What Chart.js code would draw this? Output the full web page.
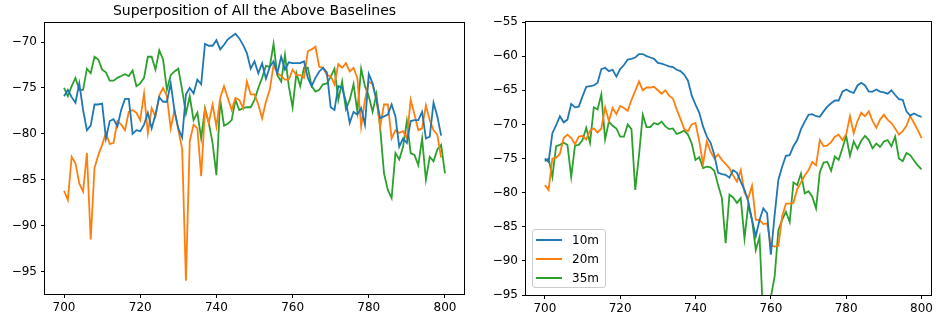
<!DOCTYPE html>
<html>
<head>
<meta charset="utf-8">
<script src="https://cdn.jsdelivr.net/npm/chart.js@4"></script>
<style>
  body { margin: 0; background: #fff; }
  #wrap { position: relative; width: 936px; height: 324px; overflow: hidden; }
  canvas { position: absolute; top: 0; }
  #leftChart { left: 0; }
  #rightChart { left: 476px; }
  .legend {
    position: absolute;
    border: 1px solid #ccc;
    border-radius: 3px;
    background: rgba(255, 255, 255, 0.8);
    padding: 0 6px 0 3px;
    font: 12px "DejaVu Sans", sans-serif;
    color: #000;
  }
  .legend div { display: flex; align-items: center; height: 19px; }
  .legend span.swatch { display: inline-block; width: 26px; height: 2px; margin-right: 10px; }
</style>
</head>
<body>
<div id="wrap">
  <canvas id="leftChart" width="470" height="324"></canvas>
  <canvas id="rightChart" width="460" height="324"></canvas>
</div>
<script>
// wavelength grid, 700..800 step 1
const xValues = [];
for (let w = 700; w <= 800; w++) xValues.push(w);

const seriesNames = ["10m", "20m", "35m"];
const seriesColors = ["#1f77b4", "#ff7f0e", "#2ca02c"];
const xTicks = [700, 720, 740, 760, 780, 800];
const leftYTicks = [-95, -90, -85, -80, -75, -70];
const rightYTicks = [-95, -90, -85, -80, -75, -70, -65, -60, -55];

// left plot (superposition), blue and orange stop at 799
const leftBlue = [
  -75.9, -75.2, -76.0, -76.6, -74.5, -77.4, -79.6, -79.1, -76.8, -76.8,
  -76.7, -80.5, -78.6, -78.4, -79.2, -77.4, -76.2, -76.2, -80.0, -79.6,
  -79.7, -79.0, -77.7, -79.4, -77.9, -76.0, -76.5, -76.5, -74.5, -77.5,
  -79.4, -80.4, -75.7, -75.0, -75.6, -74.1, -74.6, -70.2, -70.4, -70.4,
  -69.8, -70.8, -70.3, -69.7, -69.4, -69.1, -69.6, -70.3, -71.2, -72.9,
  -72.1, -73.4, -72.3, -74.0, -72.7, -72.1, -73.4, -71.6, -73.0, -72.2,
  -72.3, -72.3, -72.3, -72.1, -73.9, -74.8, -73.9, -73.2, -72.8, -73.3,
  -77.1, -77.4, -74.8, -75.0, -76.5, -78.8, -77.6, -77.9, -77.2, -79.0,
  -73.5, -74.5, -76.3, -78.3, -78.1, -77.9, -76.8, -78.1, -81.4, -80.5,
  -81.0, -78.6, -78.5, -78.5, -77.6, -80.5, -80.3, -76.6, -78.1, -80.2
];
const leftOrange = [
  -86.2, -87.2, -82.5, -83.2, -85.4, -86.3, -82.1, -91.5, -83.7, -82.3,
  -81.2, -79.9, -81.1, -81.0, -78.6, -79.0, -79.6, -77.6, -77.4, -77.7,
  -78.5, -75.6, -79.9, -77.2, -78.1, -75.8, -75.0, -75.9, -79.4, -77.4,
  -79.6, -81.6, -96.0, -80.8, -79.0, -79.4, -84.6, -77.4, -78.8, -76.8,
  -79.2, -76.1, -74.8, -76.1, -77.4, -76.1, -76.3, -77.2, -74.3, -75.7,
  -75.7, -76.8, -78.3, -76.5, -75.2, -72.5, -73.4, -73.7, -74.1, -74.1,
  -73.0, -73.6, -73.6, -73.9, -71.0, -70.8, -70.5, -72.7, -72.8, -73.6,
  -73.7, -74.6, -72.4, -72.8, -72.3, -73.2, -72.8, -73.9, -79.2, -76.3,
  -74.3, -74.6, -76.3, -79.2, -76.8, -76.8, -80.5, -79.6, -79.9, -79.7,
  -80.5, -76.3, -77.9, -79.6, -79.4, -76.9, -78.5, -79.6, -80.1, -82.6
];
const leftGreen = [
  -75.0, -75.9, -74.8, -73.9, -75.2, -75.2, -72.9, -73.4, -71.6, -71.9,
  -73.0, -73.3, -74.2, -74.2, -73.9, -73.7, -73.5, -73.7, -73.1, -74.8,
  -74.5, -73.9, -71.6, -71.6, -73.0, -70.9, -71.9, -75.2, -73.6, -73.2,
  -72.9, -75.2, -77.8, -75.9, -78.5, -77.7, -80.5, -77.2, -78.8, -81.0,
  -84.5, -76.3, -79.1, -78.9, -78.5, -76.3, -77.4, -77.2, -77.1, -77.1,
  -76.3, -75.0, -73.9, -72.6, -72.7, -70.2, -73.6, -74.3, -71.4, -74.8,
  -77.1, -73.4, -74.8, -72.8, -72.8, -74.8, -75.4, -75.2, -74.6, -74.5,
  -73.8, -72.9, -76.3, -74.3, -77.3, -76.3, -74.6, -77.6, -72.9, -74.8,
  -75.9, -77.6, -75.7, -79.4, -84.3, -86.1, -87.0, -82.1, -82.8, -81.4,
  -78.6, -82.1, -82.3, -83.4, -80.5, -85.0, -82.5, -83.0, -81.7, -81.2,
  -84.3
];

// right plot
const rightBlue = [
  -75.0, -75.5, -71.3, -70.1, -68.8, -69.7, -69.3, -67.0, -67.5, -67.4,
  -65.9, -64.5, -64.4, -64.3, -63.9, -61.9, -61.7, -62.2, -62.0, -63.0,
  -61.9, -61.3, -60.5, -60.4, -60.2, -59.7, -59.7, -60.0, -60.2, -60.4,
  -61.0, -61.1, -61.3, -61.5, -61.6, -62.0, -62.2, -62.7, -63.6, -65.8,
  -67.1, -68.3, -70.3, -71.8, -72.7, -74.5, -77.1, -77.3, -77.4, -77.8,
  -76.7, -77.1, -78.4, -79.6, -81.3, -84.0, -86.4, -84.0, -82.3, -83.0,
  -89.1, -83.3, -78.1, -76.2, -74.6, -74.5, -73.2, -72.3, -70.7, -69.6,
  -68.6, -68.5, -68.8, -68.9, -68.1, -67.4, -66.9, -66.5, -66.5, -65.2,
  -64.9, -65.2, -65.4, -64.3, -63.9, -64.3, -65.2, -65.2, -64.9, -65.2,
  -65.3, -65.5, -65.0, -65.7, -66.3, -66.4, -68.1, -68.7, -68.4, -68.7,
  -68.9
];
const rightOrange = [
  -78.9, -79.6, -75.0, -74.9, -74.3, -72.0, -71.5, -72.0, -72.9, -71.8,
  -71.7, -72.2, -70.9, -70.6, -71.2, -70.6, -67.5, -69.5, -67.6, -68.5,
  -67.3, -67.6, -68.0, -66.4, -65.1, -63.7, -65.0, -64.6, -64.6, -64.5,
  -65.0, -65.5, -65.0, -65.8, -66.2, -67.8, -69.2, -70.7, -71.0, -70.0,
  -69.8, -72.5, -75.8, -72.5, -74.0, -75.0, -74.4, -75.2, -75.8, -76.4,
  -77.5, -78.4, -76.7, -80.0, -80.8, -79.0, -84.0, -84.0, -84.6, -84.5,
  -87.7, -87.9, -87.8, -83.5, -81.6, -81.6, -81.5, -79.5, -78.5, -77.5,
  -76.7, -75.5, -76.0, -72.3, -73.2, -73.1, -72.6, -71.8, -71.5, -72.3,
  -71.5, -68.8, -71.3, -69.5, -68.3, -68.8, -68.1, -69.5, -70.5, -69.3,
  -68.6, -69.3, -69.8, -70.6, -71.5, -71.0, -70.2, -68.8, -69.8, -70.8,
  -72.0
];
const rightGreen = [
  -75.4, -75.0, -77.7, -73.2, -73.0, -72.7, -73.0, -77.7, -73.1, -73.0,
  -72.3, -70.5, -72.7, -67.5, -67.8, -65.6, -72.2, -69.6, -70.2, -70.6,
  -71.8, -71.8, -70.0, -70.7, -79.6, -74.5, -68.6, -70.4, -70.4, -69.8,
  -70.0, -69.6, -70.3, -70.7, -70.6, -71.4, -71.2, -70.9, -71.5, -72.8,
  -75.2, -74.8, -76.4, -76.2, -76.3, -76.8, -78.9, -80.8, -87.4, -80.3,
  -80.7, -81.5, -80.8, -86.7, -81.8, -84.0, -88.4, -86.5, -99.0, -99.5,
  -95.3, -92.3, -85.5, -84.0, -82.8, -84.3, -78.5, -78.9, -77.2, -80.1,
  -79.8, -80.6, -82.3, -77.0, -75.6, -75.5, -76.8, -74.7, -75.2, -73.5,
  -71.7, -74.6, -72.5, -73.6, -72.4, -71.7, -72.3, -73.5, -72.8, -73.3,
  -72.5, -72.3, -73.2, -71.8, -75.0, -75.4, -74.2, -74.5, -75.3, -76.0,
  -76.6
];

function toPoints(ys) {
  return ys.map((y, i) => ({ x: xValues[i], y: y }));
}

function makeDatasets(lists) {
  return lists.map((ys, i) => ({
    label: seriesNames[i],
    data: toPoints(ys),
    borderColor: seriesColors[i],
    backgroundColor: seriesColors[i],
    borderWidth: 1.8,
    pointRadius: 0,
    tension: 0,
    fill: false
  }));
}

function minusSign(v) {
  return String(v).replace("-", "\u2212");
}

// draws the closed box around the plot area
const framePlugin = {
  id: "frame",
  afterDraw(chart) {
    const a = chart.chartArea;
    const ctx = chart.ctx;
    ctx.save();
    ctx.strokeStyle = "#000";
    ctx.lineWidth = 1;
    ctx.strokeRect(Math.round(a.left) - 0.5, Math.round(a.top) - 0.5,
      Math.round(a.right - a.left) + 1, Math.round(a.bottom - a.top) + 1);
    ctx.restore();
  }
};

function makeOptions(o) {
  const tickFont = { family: "DejaVu Sans", size: 12 };
  return {
    responsive: false,
    animation: false,
    layout: { padding: o.padding },
    plugins: {
      legend: { display: false },
      tooltip: { enabled: false },
      title: o.title ? {
        display: true,
        text: o.title,
        fullSize: false,
        color: "#000",
        font: { family: "DejaVu Sans", size: 14, weight: "normal" },
        padding: { top: 3, bottom: 3 }
      } : { display: false }
    },
    scales: {
      x: {
        type: "linear",
        min: o.xMin,
        max: o.xMax,
        afterBuildTicks: s => { s.ticks = xTicks.map(v => ({ value: v })); },
        afterFit: s => { s.height = o.xHeight; },
        grid: { drawOnChartArea: false, drawTicks: true, tickLength: 4, color: "#000" },
        border: { display: false },
        ticks: { color: "#000", font: tickFont, padding: 3, maxRotation: 0, callback: v => minusSign(v) }
      },
      y: {
        type: "linear",
        min: o.yMin,
        max: o.yMax,
        afterBuildTicks: s => { s.ticks = o.yTicks.map(v => ({ value: v })); },
        afterFit: s => { s.width = o.yWidth; },
        grid: { drawOnChartArea: false, drawTicks: true, tickLength: 4, color: "#000" },
        border: { display: false },
        ticks: { color: "#000", font: tickFont, padding: 4, callback: v => minusSign(v) }
      }
    }
  };
}

const leftChart = new Chart(document.getElementById("leftChart"), {
  type: "line",
  data: { datasets: makeDatasets([leftBlue, leftOrange, leftGreen]) },
  options: makeOptions({
    title: "Superposition of All the Above Baselines",
    padding: { left: 0, right: 6, top: 0, bottom: 0 },
    xMin: 695, xMax: 805, yMin: -97.45, yMax: -67.9,
    yTicks: leftYTicks, xHeight: 30, yWidth: 45
  }),
  plugins: [framePlugin]
});

const rightChart = new Chart(document.getElementById("rightChart"), {
  type: "line",
  data: { datasets: makeDatasets([rightBlue, rightOrange, rightGreen]) },
  options: makeOptions({
    title: null,
    padding: { left: 0, right: 1, top: 22, bottom: 0 },
    xMin: 695, xMax: 802.5, yMin: -95, yMax: -55,
    yTicks: rightYTicks, xHeight: 29, yWidth: 50
  }),
  plugins: [framePlugin]
});

// legend box in the lower left corner of the right plot
function buildLegend(chart, canvasLeft) {
  const box = document.createElement("div");
  box.className = "legend";
  chart.data.datasets.forEach(ds => {
    const row = document.createElement("div");
    const sw = document.createElement("span");
    sw.className = "swatch";
    sw.style.background = ds.borderColor;
    row.appendChild(sw);
    row.appendChild(document.createTextNode(ds.label));
    box.appendChild(row);
  });
  document.getElementById("wrap").appendChild(box);
  const a = chart.chartArea;
  box.style.left = (canvasLeft + a.left + 6) + "px";
  box.style.top = (a.bottom - 7 - box.offsetHeight) + "px";
}
buildLegend(rightChart, 476);
</script>
</body>
</html>
